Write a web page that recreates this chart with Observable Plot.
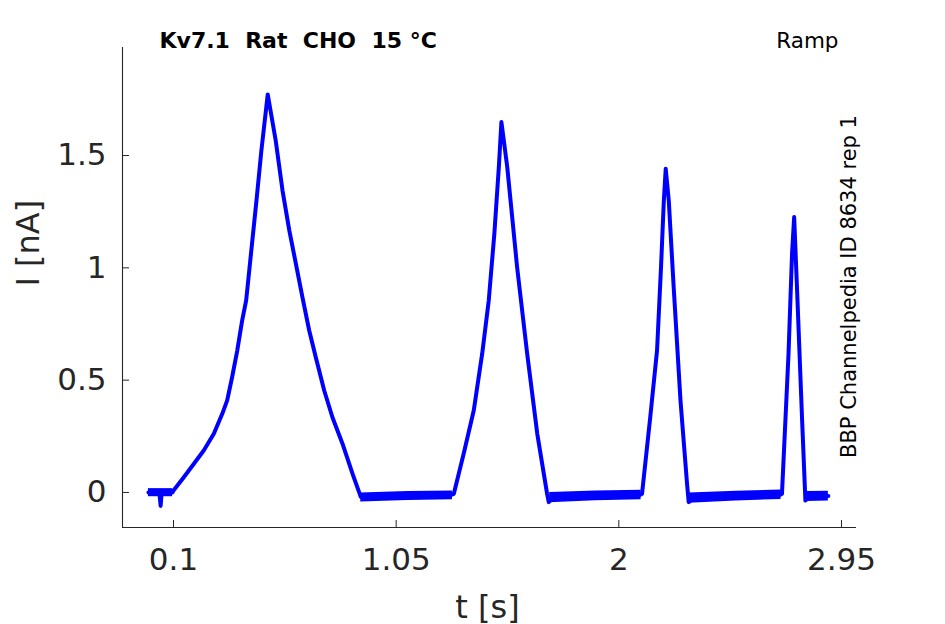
<!DOCTYPE html>
<html>
<head>
<meta charset="utf-8">
<script src="https://cdn.jsdelivr.net/npm/d3@7"></script>
<script src="https://cdn.jsdelivr.net/npm/@observablehq/plot@0.6"></script>
<style>
  html, body { margin: 0; padding: 0; background: #fff; }
  svg text { white-space: pre; }
</style>
</head>
<body>
<div id="chart"></div>
<script>
// Time (s) and current (nA)
const timeS = [
  -0.007, 0.019, 0.040, 0.045, 0.049, 0.070, 0.096, 0.100, 0.144, 0.187, 0.229, 0.272,
  0.308, 0.329, 0.350, 0.372, 0.393, 0.410, 0.454, 0.475, 0.502, 0.536, 0.565, 0.594,
  0.622, 0.650, 0.679, 0.707, 0.743, 0.778, 0.821, 0.864, 0.899, 0.962, 1.068, 1.175,
  1.282, 1.296, 1.338, 1.381, 1.417, 1.445, 1.469, 1.488, 1.499, 1.524, 1.566, 1.609,
  1.652, 1.694, 1.701, 1.722, 1.836, 1.964, 2.092, 2.099, 2.134, 2.163, 2.180, 2.192,
  2.200, 2.213, 2.234, 2.263, 2.291, 2.298, 2.319, 2.433, 2.561, 2.689, 2.696, 2.724,
  2.739, 2.748, 2.760, 2.782, 2.796, 2.817, 2.894
];
const currentNA = [
  0.000, -0.002, -0.003, -0.060, -0.008, 0.000, 0.000, 0.009, 0.068, 0.128, 0.187, 0.261,
  0.350, 0.410, 0.513, 0.632, 0.766, 0.855, 1.300, 1.523, 1.772, 1.567, 1.345, 1.167,
  1.019, 0.870, 0.721, 0.602, 0.454, 0.335, 0.217, 0.083, -0.020, -0.019, -0.016, -0.014,
  -0.012, -0.006, 0.172, 0.365, 0.618, 0.855, 1.153, 1.448, 1.649, 1.448, 1.003, 0.618,
  0.261, -0.006, -0.043, -0.022, -0.017, -0.013, -0.010, -0.006, 0.335, 0.632, 1.003, 1.300,
  1.441, 1.300, 0.914, 0.410, 0.039, -0.043, -0.024, -0.018, -0.014, -0.010, -0.006, 0.618,
  1.063, 1.226, 0.914, 0.321, -0.036, -0.018, -0.016
];
// Noise envelope of the flat (baseline) stretches
const bandSegment = [0, 0, 1, 1, 1, 2, 2, 2, 3, 3, 3, 4, 4];
const bandTime = [-0.007, 0.096, 0.899, 1.100, 1.290, 1.705, 1.900, 2.095, 2.300, 2.500, 2.692, 2.800, 2.894];
const bandLow = [-0.019, -0.019, -0.042, -0.036, -0.032, -0.046, -0.037, -0.032, -0.048, -0.038, -0.031, -0.040, -0.038];
const bandHigh = [0.017, 0.017, -0.002, 0.004, 0.007, 0.000, 0.006, 0.010, -0.002, 0.005, 0.011, 0.004, 0.005];

const xTicks = [0.1, 1.05, 2, 2.95];
const yTicks = [0, 0.5, 1, 1.5];
const xDomain = [-0.1176, 3.014];
const yDomain = [-0.156, 1.981];
const titleText = "Kv7.1  Rat  CHO  15 °C";
const protocolText = "Ramp";
const sourceText = "BBP Channelpedia ID 8634 rep 1";
const xLabel = "t [s]";
const yLabel = "I [nA]";

const trace = timeS.map((t, i) => ({t, i: currentNA[i]}));
const band = bandTime.map((t, k) => ({t, lo: bandLow[k], hi: bandHigh[k], seg: bandSegment[k]}));

const W = 945, H = 624;
const mL = 122, mR = 89, mT = 47, mB = 97;
const frameW = W - mL - mR, frameH = H - mT - mB;
const ink = "#262626";
const font = "DejaVu Sans";
const blue = "#0000ff";

const chart = Plot.plot({
  width: W,
  height: H,
  marginLeft: mL,
  marginRight: mR,
  marginTop: mT,
  marginBottom: mB,
  style: {fontFamily: font, color: ink, background: "#fff", overflow: "visible"},
  x: {domain: xDomain},
  y: {domain: yDomain},
  marks: [
    // spines
    Plot.ruleX([xDomain[0]], {stroke: ink, strokeWidth: 1.1}),
    Plot.ruleY([yDomain[0]], {stroke: ink, strokeWidth: 1.1}),
    // inward ticks
    Plot.tickX(xTicks, {x: d => d, stroke: ink, strokeWidth: 1, insetTop: frameH - 7}),
    Plot.tickY(yTicks, {y: d => d, stroke: ink, strokeWidth: 1, insetRight: frameW - 7}),
    Plot.axisX({ticks: xTicks, tickSize: 0, tickPadding: 20, fontSize: 31, label: null, fill: ink, tickFormat: d => `${d}`}),
    Plot.axisY({ticks: yTicks, tickSize: 0, tickPadding: 16, fontSize: 31, label: null, fill: ink, tickFormat: d => `${d}`}),
    // baseline noise envelope
    Plot.areaY(band, {x: "t", y1: "lo", y2: "hi", z: "seg", fill: blue}),
    // trace
    Plot.line(trace, {x: "t", y: "i", stroke: blue, strokeWidth: 4, strokeLinejoin: "round", strokeLinecap: "round"}),
    // texts
    Plot.text([titleText], {text: d => d, frameAnchor: "top-left", dx: 37, dy: 0, lineAnchor: "bottom", textAnchor: "start", fontSize: 22, fontWeight: "bold", fill: "#000"}),
    Plot.text([protocolText], {text: d => d, frameAnchor: "top-right", dx: -18, dy: 0, lineAnchor: "bottom", textAnchor: "end", fontSize: 21.5, fill: "#000"}),
    Plot.text([sourceText], {text: d => d, frameAnchor: "right", dx: -7, dy: -1, rotate: -90, lineAnchor: "middle", textAnchor: "middle", fontSize: 21, fill: "#000"}),
    Plot.text([xLabel], {text: d => d, frameAnchor: "bottom", dx: -2, dy: 80, lineAnchor: "middle", fontSize: 32, fill: ink}),
    Plot.text([yLabel], {text: d => d, frameAnchor: "left", dx: -94, dy: -1, rotate: -90, lineAnchor: "middle", fontSize: 32, fill: ink})
  ]
});
document.getElementById("chart").appendChild(chart);
</script>
</body>
</html>
